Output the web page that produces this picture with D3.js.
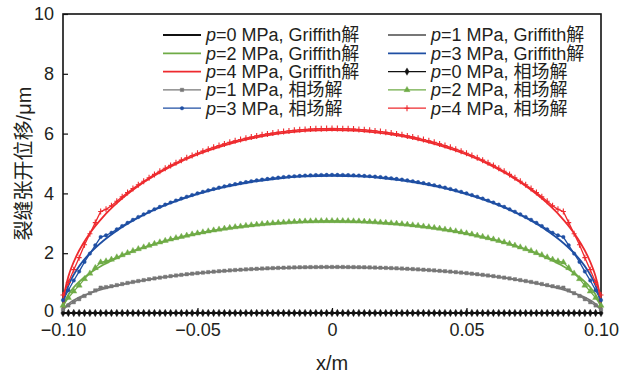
<!DOCTYPE html>
<html>
<head>
<meta charset="utf-8">
<script src="https://cdn.jsdelivr.net/npm/d3@7"></script>
<style>
  body { margin: 0; background: #fff; }
  text { font-family: "Liberation Sans", Arial, "Noto Sans CJK SC", sans-serif; fill: #231f20; }
</style>
</head>
<body>
<div id="chart"></div>
<script>
// x grid of the Griffith (analytic) curves
var xG = [-0.1,-0.0995,-0.099,-0.098,-0.097,-0.095,-0.0925,-0.09,-0.085,-0.08,-0.07,-0.06,-0.05,-0.04,-0.03,-0.02,-0.01,0,
  0.01,0.02,0.03,0.04,0.05,0.06,0.07,0.08,0.085,0.09,0.0925,0.095,0.097,0.098,0.099,0.0995,0.1];

var g0 = [0,0,0,0,0,0,0,0,0,0,0,0,0,0,0,0,0,0,0,0,0,0,0,0,0,0,0,0,0,0,0,0,0,0,0];
var g1 = [0,0.153,0.216,0.304,0.372,0.478,0.581,0.667,0.806,0.918,1.093,1.224,1.325,1.402,1.459,1.499,1.522,1.530,
  1.522,1.499,1.459,1.402,1.325,1.224,1.093,0.918,0.806,0.667,0.581,0.478,0.372,0.304,0.216,0.153,0];
var g2 = [0,0.306,0.432,0.609,0.744,0.955,1.163,1.334,1.612,1.836,2.185,2.448,2.650,2.804,2.919,2.998,3.045,3.060,
  3.045,2.998,2.919,2.804,2.650,2.448,2.185,1.836,1.612,1.334,1.163,0.955,0.744,0.609,0.432,0.306,0];
var g3 = [0,0.459,0.648,0.913,1.116,1.433,1.744,2.001,2.418,2.754,3.278,3.672,3.975,4.207,4.378,4.497,4.567,4.590,
  4.567,4.497,4.378,4.207,3.975,3.672,3.278,2.754,2.418,2.001,1.744,1.433,1.116,0.913,0.648,0.459,0];
var g4 = [0,0.611,0.864,1.218,1.488,1.911,2.326,2.668,3.224,3.672,4.370,4.896,5.300,5.609,5.838,5.996,6.089,6.120,
  6.089,5.996,5.838,5.609,5.300,4.896,4.370,3.672,3.224,2.668,2.326,1.911,1.488,1.218,0.864,0.611,0];

// x grid of the phase-field points
var xPF = [-0.100,-0.098,-0.096,-0.094,-0.092,-0.090,-0.088,-0.086,-0.084,-0.082,-0.080,-0.078,-0.076,-0.074,-0.072,-0.070,
  -0.068,-0.066,-0.064,-0.062,-0.060,-0.058,-0.056,-0.054,-0.052,-0.050,-0.048,-0.046,-0.044,-0.042,-0.040,-0.038,-0.036,
  -0.034,-0.032,-0.030,-0.028,-0.026,-0.024,-0.022,-0.020,-0.018,-0.016,-0.014,-0.012,-0.010,-0.008,-0.006,-0.004,-0.002,0,
  0.002,0.004,0.006,0.008,0.010,0.012,0.014,0.016,0.018,0.020,0.022,0.024,0.026,0.028,0.030,0.032,0.034,0.036,0.038,0.040,
  0.042,0.044,0.046,0.048,0.050,0.052,0.054,0.056,0.058,0.060,0.062,0.064,0.066,0.068,0.070,0.072,0.074,0.076,0.078,0.080,
  0.082,0.084,0.086,0.088,0.090,0.092,0.094,0.096,0.098,0.100];

var pf0 = [0,0,0,0,0,0,0,0,0,0,0,0,0,0,0,0,0,0,0,0,0,0,0,0,0,0,0,0,0,0,0,0,0,0,0,0,0,0,0,0,0,0,0,0,0,0,0,0,0,0,0,
  0,0,0,0,0,0,0,0,0,0,0,0,0,0,0,0,0,0,0,0,0,0,0,0,0,0,0,0,0,0,0,0,0,0,0,0,0,0,0,0,0,0,0,0,0,0,0,0,0,0];
var pf1 = [0.12,0.254,0.362,0.462,0.570,0.662,0.755,0.847,0.865,0.895,0.932,0.969,1.005,1.039,1.070,1.100,1.129,1.157,
  1.183,1.208,1.232,1.254,1.276,1.296,1.315,1.334,1.351,1.367,1.383,1.398,1.411,1.425,1.437,1.448,1.459,1.469,1.478,1.487,
  1.495,1.502,1.509,1.515,1.520,1.525,1.529,1.532,1.535,1.537,1.539,1.540,1.540,
  1.540,1.539,1.537,1.535,1.532,1.529,1.525,1.520,1.515,1.509,1.502,1.495,1.487,1.478,1.469,1.459,1.448,1.437,1.425,1.411,
  1.398,1.383,1.367,1.351,1.334,1.315,1.296,1.276,1.254,1.232,1.208,1.183,1.157,1.129,1.100,1.070,1.039,1.005,0.969,0.932,
  0.895,0.865,0.847,0.755,0.662,0.570,0.462,0.362,0.254,0.12];
var pf2 = [0.25,0.508,0.724,0.924,1.140,1.324,1.509,1.694,1.731,1.789,1.865,1.939,2.010,2.077,2.141,2.199,2.258,2.314,
  2.367,2.417,2.464,2.509,2.552,2.592,2.631,2.667,2.702,2.735,2.766,2.795,2.823,2.849,2.874,2.896,2.918,2.938,2.957,2.974,
  2.990,3.005,3.018,3.030,3.040,3.050,3.058,3.065,3.070,3.074,3.078,3.079,3.080,
  3.079,3.078,3.074,3.070,3.065,3.058,3.050,3.040,3.030,3.018,3.005,2.990,2.974,2.957,2.938,2.918,2.896,2.874,2.849,2.823,
  2.795,2.766,2.735,2.702,2.667,2.631,2.592,2.552,2.509,2.464,2.417,2.367,2.314,2.258,2.199,2.141,2.077,2.010,1.939,1.865,
  1.789,1.731,1.694,1.509,1.324,1.140,0.924,0.724,0.508,0.25];
var pf3 = [0.43,0.762,1.086,1.386,1.709,1.987,2.264,2.541,2.596,2.684,2.797,2.908,3.015,3.116,3.211,3.299,3.387,3.471,
  3.550,3.625,3.696,3.763,3.828,3.889,3.946,4.001,4.053,4.102,4.149,4.193,4.234,4.274,4.310,4.345,4.377,4.407,4.435,4.461,
  4.485,4.507,4.527,4.545,4.560,4.575,4.587,4.597,4.605,4.612,4.616,4.619,4.620,
  4.619,4.616,4.612,4.605,4.597,4.587,4.575,4.560,4.545,4.527,4.507,4.485,4.461,4.435,4.407,4.377,4.345,4.310,4.274,4.234,
  4.193,4.149,4.102,4.053,4.001,3.946,3.889,3.828,3.763,3.696,3.625,3.550,3.471,3.387,3.299,3.211,3.116,3.015,2.908,2.797,
  2.684,2.596,2.541,2.264,1.987,1.709,1.386,1.086,0.762,0.43];
var pf4 = [0.60,1.018,1.450,1.851,2.283,2.653,3.023,3.394,3.468,3.585,3.736,3.884,4.026,4.162,4.288,4.406,4.524,4.636,
  4.741,4.841,4.936,5.026,5.112,5.193,5.270,5.343,5.413,5.478,5.541,5.599,5.655,5.707,5.757,5.802,5.845,5.886,5.923,5.958,
  5.990,6.019,6.045,6.069,6.090,6.110,6.126,6.139,6.150,6.159,6.165,6.169,6.170,
  6.169,6.165,6.159,6.150,6.139,6.126,6.110,6.090,6.069,6.045,6.019,5.990,5.958,5.923,5.886,5.845,5.802,5.757,5.707,5.655,
  5.599,5.541,5.478,5.413,5.343,5.270,5.193,5.112,5.026,4.936,4.841,4.741,4.636,4.524,4.406,4.288,4.162,4.026,3.884,3.736,
  3.585,3.468,3.394,3.023,2.653,2.283,1.851,1.450,1.018,0.60];

var xTicks = [-0.1, -0.05, 0, 0.05, 0.1];
var xTickLabels = ["\u22120.10", "\u22120.05", "0", "0.05", "0.10"];
var yTicks = [0, 2, 4, 6, 8, 10];

var colors = {0: "#111111", 1: "#777777", 2: "#6fab46", 3: "#1f4fa3", 4: "#ee2a2e"};

var W = 622, H = 377;
var margin = {top: 14, right: 21, bottom: 64, left: 63};
var width = W - margin.left - margin.right,
    height = H - margin.top - margin.bottom;

var svg = d3.select("#chart").append("svg")
    .attr("width", W).attr("height", H)
  .append("g")
    .attr("transform", "translate(" + margin.left + "," + margin.top + ")");

var x = d3.scaleLinear().domain([-0.1, 0.1]).range([0, width]);
var y = d3.scaleLinear().domain([0, 10]).range([height, 0]);

// frame
svg.append("rect")
  .attr("x", 0).attr("y", 0).attr("width", width).attr("height", height)
  .attr("fill", "none").attr("stroke", "#111").attr("stroke-width", 1.6);

// axes (ticks inside)
var yAxis = svg.append("g")
  .call(d3.axisLeft(y).tickValues(yTicks).tickSizeInner(-5).tickSizeOuter(0).tickPadding(9));
yAxis.select(".domain").remove();
yAxis.selectAll("line").attr("stroke", "#111").attr("stroke-width", 1.2);
yAxis.selectAll("text").style("font-size", "18px").attr("fill", "#231f20");
yAxis.selectAll(".tick").filter(function(d) { return d === 0; }).select("text").attr("dy", "0.2em");

var xAxis = svg.append("g")
  .attr("transform", "translate(0," + height + ")")
  .call(d3.axisBottom(x).tickValues(xTicks).tickFormat(function(d, i) { return xTickLabels[i]; })
    .tickSizeInner(-5).tickSizeOuter(0).tickPadding(10));
xAxis.select(".domain").remove();
xAxis.selectAll("line").attr("stroke", "#111").attr("stroke-width", 1.2);
xAxis.selectAll("text").style("font-size", "18px").attr("fill", "#231f20");

// axis titles
svg.append("text")
  .attr("x", width / 2).attr("y", height + 57)
  .attr("text-anchor", "middle").style("font-size", "20px")
  .text("x/m");
svg.append("text")
  .attr("transform", "translate(" + (-32) + "," + (height / 2) + ") rotate(-90)")
  .attr("text-anchor", "middle").style("font-size", "20px")
  .text("裂缝张开位移/μm");

var line = d3.line()
  .x(function(d) { return x(d[0]); })
  .y(function(d) { return y(d[1]); });
var smooth = d3.line()
  .curve(d3.curveMonotoneX)
  .x(function(d) { return x(d[0]); })
  .y(function(d) { return y(d[1]); });

var griffith = [g0, g1, g2, g3, g4];
var phase = [pf0, pf1, pf2, pf3, pf4];
var symbols = [d3.symbolDiamond, d3.symbolSquare, d3.symbolTriangle, d3.symbolCircle, d3.symbolCross];
var symSize = [16, 12, 16, 10, 22];

// Griffith curves
griffith.forEach(function(vals, p) {
  var pts = xG.map(function(xv, i) { return [xv, vals[i]]; });
  svg.append("path").datum(pts)
    .attr("fill", "none").attr("stroke", colors[p]).attr("stroke-width", 1.8)
    .attr("d", smooth);
});

// phase-field curves with markers
phase.forEach(function(vals, p) {
  var pts = xPF.map(function(xv, i) { return [xv, vals[i]]; });
  svg.append("path").datum(pts)
    .attr("fill", "none").attr("stroke", colors[p]).attr("stroke-width", 1.3)
    .attr("d", line);
  svg.append("g").selectAll("path")
    .data(pts)
    .enter().append("path")
      .attr("transform", function(d) { return "translate(" + x(d[0]) + "," + y(d[1]) + ")"; })
      .attr("d", p === 4 ? "M0,-3V3M-2.5,0H2.5" : d3.symbol().type(symbols[p]).size(symSize[p]))
      .attr("fill", p === 4 ? "none" : colors[p])
      .attr("stroke", colors[p])
      .attr("stroke-width", p === 4 ? 1.1 : 0.4);
});

// legend
var legendItems = [
  {p: 0, kind: "g", label: "Griffith解"}, {p: 1, kind: "g", label: "Griffith解"},
  {p: 2, kind: "g", label: "Griffith解"}, {p: 3, kind: "g", label: "Griffith解"},
  {p: 4, kind: "g", label: "Griffith解"}, {p: 0, kind: "pf", label: "相场解"},
  {p: 1, kind: "pf", label: "相场解"}, {p: 2, kind: "pf", label: "相场解"},
  {p: 3, kind: "pf", label: "相场解"}, {p: 4, kind: "pf", label: "相场解"}
];
var legend = svg.append("g");
legendItems.forEach(function(it, i) {
  var col = i % 2, row = Math.floor(i / 2);
  var lx = (col === 0 ? 163 : 388) - margin.left;
  var ly = 35 + row * 18.3 - margin.top;
  var gItem = legend.append("g").attr("transform", "translate(" + lx + "," + ly + ")");
  gItem.append("line").attr("x1", 0).attr("x2", 38).attr("y1", 0).attr("y2", 0)
    .attr("stroke", colors[it.p]).attr("stroke-width", it.kind === "g" ? 1.8 : 1.3);
  if (it.kind === "pf") {
    gItem.append("path")
      .attr("transform", "translate(19,0)")
      .attr("d", it.p === 4 ? "M0,-3V3M-2.5,0H2.5" : d3.symbol().type(symbols[it.p]).size(symSize[it.p]))
      .attr("fill", it.p === 4 ? "none" : colors[it.p])
      .attr("stroke", colors[it.p]).attr("stroke-width", it.p === 4 ? 1.1 : 0.4);
  }
  var t = gItem.append("text").attr("x", 43).attr("y", 6.3).style("font-size", "18px");
  t.append("tspan").style("font-style", "italic").text("p");
  t.append("tspan").text("=" + it.p + " MPa, " + it.label);
});
</script>
</body>
</html>
